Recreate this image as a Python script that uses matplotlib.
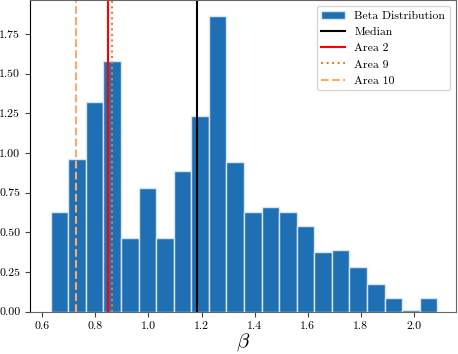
import numpy as np
import matplotlib
matplotlib.use("Agg")
from matplotlib import pyplot as plt

# histogram of beta (density), 22 equal bins
bin_start = 0.632
bin_end = 2.0876
heights = [0.627, 0.959, 1.322, 1.576, 0.462, 0.777, 0.462, 0.884, 1.230, 1.865,
           0.944, 0.627, 0.657, 0.627, 0.537, 0.374, 0.386, 0.281, 0.176, 0.086,
           0.011, 0.086]

median_beta = 1.181
area_names = ["Area 2", "Area 9", "Area 10"]
area_beta = [0.849, 0.861, 0.727]

plt.rcParams["font.family"] = "serif"
plt.rcParams["font.serif"] = ["cmr10"]
plt.rcParams["mathtext.fontset"] = "cm"
plt.rcParams["axes.formatter.use_mathtext"] = True
plt.rcParams["axes.unicode_minus"] = False

edges = np.linspace(bin_start, bin_end, len(heights) + 1)
centers = (edges[:-1] + edges[1:]) / 2

fig = plt.figure(figsize=(4.58, 3.54), dpi=100)
ax = fig.add_axes([30 / 458, 42.3 / 354, 426 / 458, 311.5 / 354])

ax.hist(centers, bins=edges, weights=heights, color="#1f6fb4",
        edgecolor="#d8e6f2", linewidth=1.0, label="Beta Distribution")
ax.axvline(median_beta, color="black", lw=1.5, label="Median")
ax.axvline(area_beta[0], color="red", lw=1.5, label=area_names[0])
ax.axvline(area_beta[1], color="#f07a2a", lw=1.5, ls=":", label=area_names[1])
ax.axvline(area_beta[2], color="#ffaa66", lw=1.5, ls="--", label=area_names[2])

ax.set_xlim(0.554, 2.158)
ax.set_ylim(0, 1.962)
ax.set_xticks([0.6, 0.8, 1.0, 1.2, 1.4, 1.6, 1.8, 2.0])
ax.set_yticks([0, 0.25, 0.5, 0.75, 1.0, 1.25, 1.5, 1.75])
ax.set_xticklabels(["0.6", "0.8", "1.0", "1.2", "1.4", "1.6", "1.8", "2.0"])
ax.set_yticklabels(["0.00", "0.25", "0.50", "0.75", "1.00", "1.25", "1.50", "1.75"])
ax.tick_params(labelsize=8.5, length=3.5, color="#444444")
ax.set_xlabel(r"$\beta$", fontsize=15, labelpad=0)

ax.spines["left"].set_color("black")
for s in ["bottom", "top", "right"]:
    ax.spines[s].set_color("#666666")

ax.legend(loc="upper right", fontsize=8.5, framealpha=0.8, edgecolor="#cccccc")

plt.savefig("out.png", dpi=100)
